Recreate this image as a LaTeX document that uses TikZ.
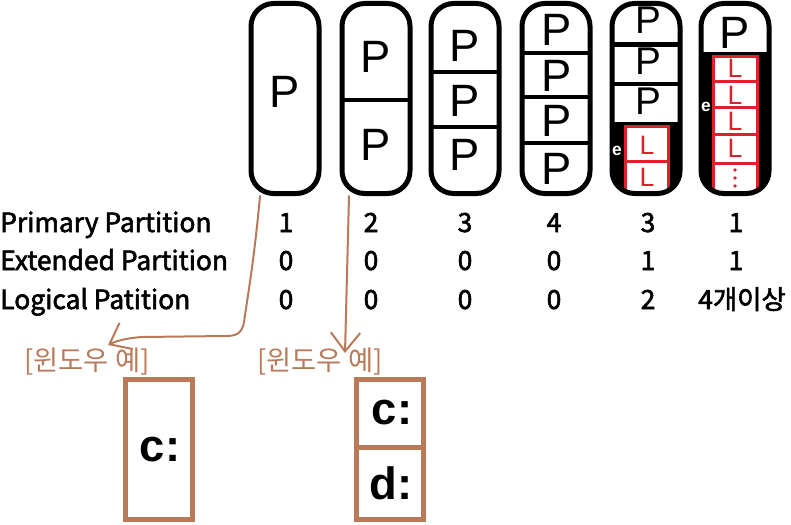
\documentclass[tikz,border=0pt]{standalone}
\usepackage{fontspec}
\setmainfont{Liberation Sans}
\newfontfamily\kr{Noto Sans CJK KR}
\newfontfamily\krm[FakeBold=2.2]{Noto Sans CJK KR}
\usetikzlibrary{arrows.meta}
\definecolor{brn}{RGB}{185,122,90}
\definecolor{lred}{RGB}{220,35,45}
\begin{document}
\begin{tikzpicture}[x=0.75pt,y=-0.75pt,
  capsule/.style={draw=black, line width=3.75pt, rounded corners=17pt,
    minimum width=51pt, minimum height=142.5pt, inner sep=0pt},
  capfill/.style={fill=black, rounded corners=17pt},
  divider/.style={line width=3pt},
  bigP/.style={font=\fontsize{34}{34}\selectfont, anchor=base, inner sep=0pt, text depth=0pt},
  midP/.style={font=\fontsize{29}{29}\selectfont, anchor=base, inner sep=0pt, text depth=0pt},
  redL/.style={text=lred, font=\fontsize{20}{20}\selectfont, anchor=base, inner sep=0pt, text depth=0pt},
  lbox/.style={draw=lred, line width=2.25pt, fill=white},
  ech/.style={text=white, font=\bfseries\fontsize{13}{13}\selectfont, inner sep=0pt},
  tbl/.style={font=\krm\fontsize{19.8}{19.8}\selectfont, inner sep=0pt},
  winlbl/.style={text=brn, font=\kr\fontsize{20.5}{20.5}\selectfont, inner sep=0pt},
  winbox/.style={draw=brn, line width=3.75pt, minimum width=50.25pt, minimum height=105pt, inner sep=0pt},
  drv/.style={font=\bfseries\fontsize{34}{34}\selectfont, inner sep=0pt},
  conn/.style={draw=brn, line width=1.5pt, line cap=round, -{Straight Barb[length=14pt,width=22pt]}}
]
\useasboundingbox (0,0) rectangle (791,524);

% capsule 1
\node[capsule] (cap1) at (285,98.5) {};
\node[bigP] (p11) at (285,108) {P};
% capsule 2
\node[capsule] (cap2) at (376,98.5) {};
\draw[divider] (342,100) -- (410,100);
\node[bigP] (p21) at (376,73) {P};
\node[bigP] (p22) at (376,160) {P};
% capsule 3
\node[capsule] (cap3) at (465,98.5) {};
\draw[divider] (431,72) -- (499,72);
\draw[divider] (431,127) -- (499,127);
\node[bigP] (p31) at (465,62) {P};
\node[bigP] (p32) at (465,117) {P};
\node[bigP] (p33) at (465,170) {P};
% capsule 4
\node[capsule] (cap4) at (556,98.5) {};
\draw[divider] (522,53) -- (590,53);
\draw[divider] (522,97) -- (590,97);
\draw[divider] (522,143) -- (590,143);
\node[bigP] (p41) at (557,46) {P};
\node[bigP] (p42) at (557,92) {P};
\node[bigP] (p43) at (557,137) {P};
\node[bigP] (p44) at (557,184) {P};
% capsule 5
\fill[capfill] (612,3.5) rectangle (680,193.5);
\begin{scope}
  \clip[rounded corners=17pt] (612,3.5) rectangle (680,193.5);
  \fill[white] (600,0) rectangle (700,42);
  \fill[white] (600,47) rectangle (700,82);
  \fill[white] (600,86) rectangle (700,122);
  \draw[lbox] (625,127) rectangle (668,205);
  \draw[draw=lred, line width=2.25pt] (625,161) -- (668,161);
\end{scope}
\node[capsule] (cap5) at (646,98.5) {};
\node[midP] (p51) at (648,34) {P};
\node[midP] (p52) at (648,75) {P};
\node[midP] (p53) at (648,115) {P};
\node[redL] (l51) at (647,154) {L};
\node[redL] (l52) at (647,186) {L};
\node[ech] (e5) at (617,151) {e};
% capsule 6
\fill[capfill] (701,3.5) rectangle (769,193.5);
\begin{scope}
  \clip[rounded corners=17pt] (701,3.5) rectangle (769,193.5);
  \fill[white] (690,0) rectangle (780,52);
  \draw[lbox] (713,57) rectangle (757,205);
  \foreach \yy in {82,108,135,163} \draw[draw=lred, line width=2.25pt] (713,\yy) -- (757,\yy);
\end{scope}
\node[capsule] (cap6) at (735,98.5) {};
\node[bigP] (p61) at (735,49) {P};
\node[redL] (l61) at (735,78) {L};
\node[redL] (l62) at (735,105) {L};
\node[redL] (l63) at (735,131) {L};
\node[redL] (l64) at (735,157) {L};
\foreach \yy in {170,178,186} \fill[lred] (735,\yy) circle (1.4pt);
\node[ech] (e6) at (706,107) {e};

% table
\node[tbl, anchor=base west] (r1) at (0,232) {Primary Partition};
\node[tbl, anchor=base west] (r2) at (0,270) {Extended Partition};
\node[tbl, anchor=base west] (r3) at (0,309) {Logical Patition};
\foreach \xx/\a/\b/\c in {286/1/0/0, 371/2/0/0, 465/3/0/0, 554/4/0/0, 648/3/1/2} {
  \node[tbl, anchor=base] at (\xx,232) {\a};
  \node[tbl, anchor=base] at (\xx,270) {\b};
  \node[tbl, anchor=base] at (\xx,309) {\c};
}
\node[tbl, anchor=base] (n61) at (736,232) {1};
\node[tbl, anchor=base] (n62) at (736,270) {1};
\node[tbl, anchor=base] (n63) at (742,309) {4개이상};

% windows examples
\node[winlbl] (win1) at (87,362) {[윈도우 예]};
\node[winlbl] (win2) at (320,362) {[윈도우 예]};
\node[winbox] (wb1) at (159,449.5) {};
\node[drv] (c1) at (160,450) {c:};
\node[winbox] (wb2) at (390,449.5) {};
\draw[draw=brn, line width=3.75pt] (356.5,447) -- (423.5,447);
\node[drv] (c2) at (392,413) {c:};
\node[drv] (d2) at (391,483) {d:};

% connectors
\coordinate (s1) at (260,196);
\coordinate (t1) at (108,345);
\coordinate (s2) at (349,196);
\coordinate (t2) at (345,353);
\draw[conn] (s1) .. controls (254,262) and (247,300) .. (244,322)
  .. controls (242,333) and (237,336) .. (226,336) -- (142,337)
  .. controls (127,338) and (116,341) .. (t1);
\draw[conn] (s2) -- (t2);
\end{tikzpicture}
\end{document}
